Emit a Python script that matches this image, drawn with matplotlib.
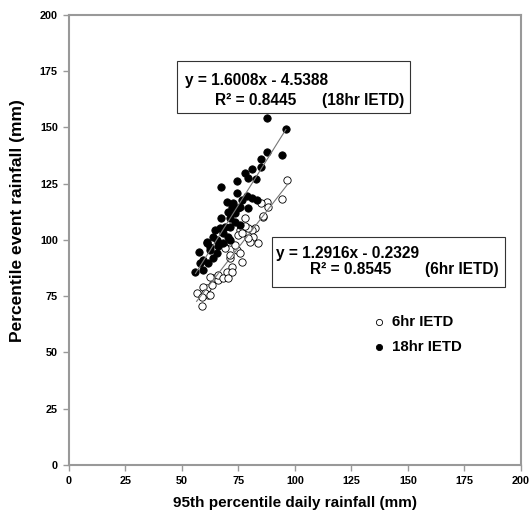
import matplotlib
matplotlib.use("Agg")
import matplotlib.pyplot as plt
import numpy as np
from matplotlib.patches import Rectangle

plt.rcParams['font.family'] = ['Liberation Sans', 'DejaVu Sans']

# 18hr IETD (filled)
x18 = [87.7, 96.0, 87.5, 94.1, 85.0, 85.0, 80.8, 77.9, 74.2, 79.3, 82.7, 67.5, 74.2, 78.6,
       80.8, 83.0, 69.8, 72.7, 76.4, 72.0, 74.9, 79.3, 70.5, 73.5, 67.5, 71.2, 73.5, 71.2,
       66.8, 68.3, 70.5, 63.9, 60.9, 65.3, 55.8, 59.4, 59.4, 61.6, 58.0, 60.9, 62.4, 65.3,
       63.9, 68.3, 71.2, 75.7, 75.7, 69.0, 57.5, 62.5, 66.0, 64.5]
y18 = [154.1, 149.2, 139.0, 137.6, 135.9, 132.6, 131.4, 129.6, 126.4, 127.4, 127.1, 123.7, 120.7, 119.7,
       118.5, 117.8, 117.0, 116.3, 117.8, 114.8, 114.1, 114.1, 112.6, 111.9, 109.6, 109.6, 108.1, 105.9,
       105.2, 103.0, 101.5, 101.5, 99.3, 100.0, 85.9, 86.7, 91.1, 89.6, 89.6, 98.5, 95.6, 94.1,
       91.9, 98.5, 100.0, 106.7, 114.8, 105.9, 94.5, 97.0, 97.5, 104.5]

# 6hr IETD (open)
x6 = [96.6, 94.2, 87.7, 85.2, 88.2, 85.7, 86.0, 77.9, 82.3, 80.8, 75.7, 79.3, 74.9, 81.5,
      80.1, 83.8, 71.2, 76.4, 78.0, 79.3, 76.4, 71.2, 72.0, 69.8, 72.0, 74.2, 73.5, 69.0,
      75.7, 71.2, 63.9, 66.1, 62.4, 66.1, 68.3, 70.5, 60.9, 59.4, 63.1, 61.6, 60.2, 56.5,
      58.7, 58.7, 62.4]
y6 = [126.5, 118.1, 116.7, 116.3, 114.8, 110.4, 110.8, 109.6, 105.2, 104.4, 104.4, 105.2, 102.2, 101.5,
      99.3, 98.5, 99.3, 103.0, 106.0, 100.7, 90.4, 91.9, 88.1, 85.9, 85.9, 95.6, 97.8, 96.3,
      94.1, 93.3, 83.0, 82.2, 83.7, 84.4, 83.0, 83.0, 78.5, 79.3, 80.0, 75.6, 76.3, 76.3,
      74.8, 70.7, 75.6]

fit18 = (1.6008, -4.5388)
fit6 = (1.2916, -0.2329)
ticks = [0, 25, 50, 75, 100, 125, 150, 175, 200]

fig = plt.figure(figsize=(5.3, 5.17), dpi=100)
ax = fig.add_axes([0.130, 0.1006, 0.853, 0.8704])

ax.scatter(x6, y6, s=28, facecolors='white', edgecolors='black', linewidths=0.6, zorder=3)
ax.scatter(x18, y18, s=28, facecolors='black', edgecolors='black', linewidths=0.6, zorder=4)

xl18 = np.array([56.0, 96.0])
ax.plot(xl18, fit18[0] * xl18 + fit18[1], color='#777777', lw=0.8, zorder=5)
xl6 = np.array([56.5, 97.0])
ax.plot(xl6, fit6[0] * xl6 + fit6[1], color='#777777', lw=0.8, zorder=5)

ax.set_xlim(0, 200)
ax.set_ylim(0, 200)
ax.set_xticks(ticks)
ax.set_yticks(ticks)
ax.tick_params(direction='out', length=4, width=1, color='#999999', labelsize=7.8, pad=4)
for lab in ax.get_xticklabels() + ax.get_yticklabels():
    lab.set_fontweight('bold')
for sp in ax.spines.values():
    sp.set_color('#999999')
    sp.set_linewidth(1.5)

ax.set_xlabel('95th percentile daily rainfall (mm)', fontsize=11, fontweight='bold', va='center')
ax.xaxis.set_label_coords(0.5, -0.0845)
ax.set_ylabel('Percentile event rainfall (mm)', fontsize=12.5, fontweight='bold', va='center')
ax.yaxis.set_label_coords(-0.113, 0.544)

fs = 11.2
# annotation boxes
ax.add_patch(Rectangle((47.9, 156.6), 103.0, 23.0, facecolor='white', edgecolor='#333333', lw=0.8, zorder=6))
ax.text(51.3, 170.8, 'y = 1.6008x - 4.5388', fontsize=fs, fontweight='bold', va='center', zorder=7)
ax.text(64.6, 162.2, 'R² = 0.8445', fontsize=fs, fontweight='bold', va='center', zorder=7)
ax.text(111.8, 162.2, '(18hr IETD)', fontsize=fs, fontweight='bold', va='center', zorder=7)

ax.add_patch(Rectangle((89.7, 79.2), 103.2, 22.3, facecolor='white', edgecolor='#333333', lw=0.8, zorder=6))
ax.text(91.4, 94.1, 'y = 1.2916x - 0.2329', fontsize=fs, fontweight='bold', va='center', zorder=7)
ax.text(106.6, 86.7, 'R² = 0.8545', fontsize=fs, fontweight='bold', va='center', zorder=7)
ax.text(157.5, 86.7, '(6hr IETD)', fontsize=fs, fontweight='bold', va='center', zorder=7)

# legend
ax.scatter([137.0], [63.7], s=20, facecolors='white', edgecolors='black', linewidths=0.6, zorder=7)
ax.text(142.8, 63.7, '6hr IETD', fontsize=10.8, fontweight='bold', va='center')
ax.scatter([137.0], [52.6], s=20, facecolors='black', edgecolors='black', linewidths=0.6, zorder=7)
ax.text(142.8, 52.6, '18hr IETD', fontsize=10.8, fontweight='bold', va='center')

fig.savefig('out.png', dpi=100)
